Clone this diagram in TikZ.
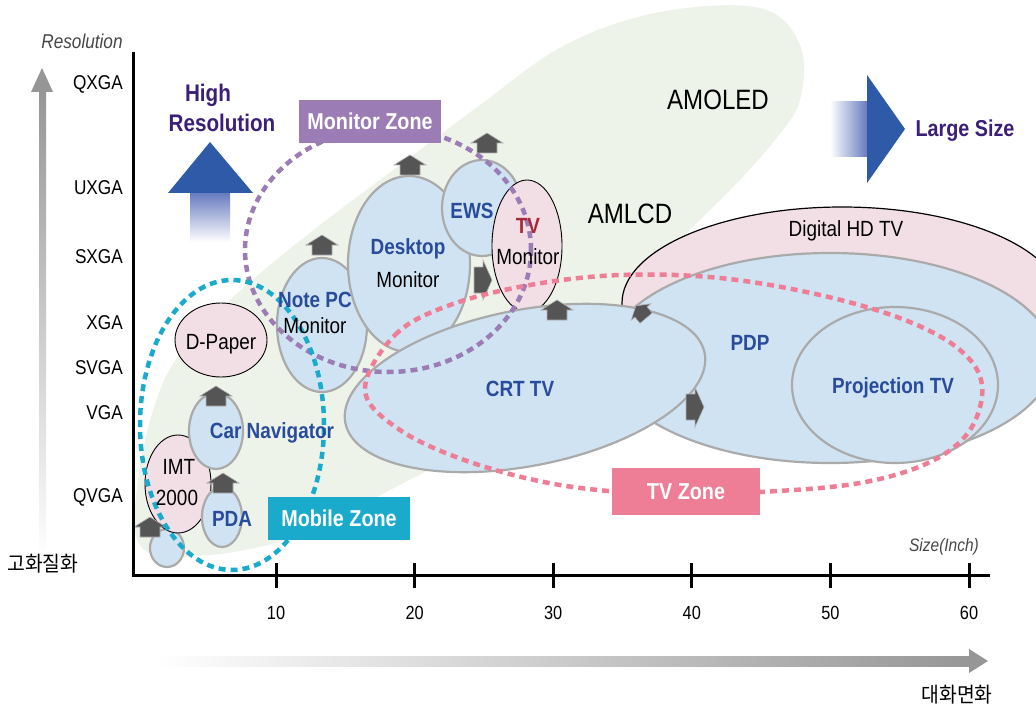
\documentclass[tikz,border=0pt]{standalone}
\usepackage{fontspec}
\setmainfont[FakeStretch=0.86]{Liberation Sans}
\newfontfamily\krfont[FakeStretch=0.92]{Noto Sans CJK KR}
\usetikzlibrary{shapes.geometric}
\definecolor{bggreen}{RGB}{237,243,233}
\definecolor{lblue}{RGB}{208,227,242}
\definecolor{ellgray}{RGB}{170,170,170}
\definecolor{lpink}{RGB}{242,222,229}
\definecolor{tblue}{RGB}{40,76,155}
\definecolor{tpurple}{RGB}{58,30,120}
\definecolor{tred}{RGB}{168,40,58}
\definecolor{purz}{RGB}{155,124,180}
\definecolor{cyanz}{RGB}{26,170,204}
\definecolor{pinkz}{RGB}{238,125,150}
\definecolor{adark}{RGB}{85,85,85}
\definecolor{ablue}{RGB}{46,90,168}
\definecolor{ablue2}{RGB}{100,120,190}
\definecolor{agray}{RGB}{150,150,150}
\definecolor{tgray}{RGB}{70,70,70}
\newcommand\fsz[1]{\fontsize{#1}{#1}\selectfont}
\tikzset{
  ell/.style={ellipse, draw=ellgray, line width=2.2pt, fill=lblue, inner sep=0pt},
  pell/.style={ellipse, draw=black, line width=0.9pt, fill=lpink, inner sep=0pt},
  btxt/.style={font=\fsz{22}\bfseries, text=tblue, inner sep=0pt},
  rtxt/.style={font=\fsz{22}, inner sep=0pt},
  zone/.style={line width=4.5pt, dash pattern=on 7pt off 5pt},
  zbox/.style={text=white, font=\fsz{23}\bfseries, inner sep=0pt},
  ylab/.style={anchor=east, font=\fsz{20}, inner sep=0pt},
  uparr/.pic={\filldraw[fill=adark, draw=gray!60, line width=0.6pt]
     (0,-10) -- (16,0) -- (10,0) -- (10,10) -- (-10,10) -- (-10,0) -- (-16,0) -- cycle;},
  rarr/.pic={\filldraw[fill=adark, draw=gray!60, line width=0.6pt]
     (9,0) -- (0,-20) -- (0,-13) -- (-9,-13) -- (-9,13) -- (0,13) -- (0,20) -- cycle;}
}
\begin{document}
\begin{tikzpicture}[x=1pt,y=-1pt]
\useasboundingbox (0,0) rectangle (1036,714);
% AMOLED background
\fill[bggreen] plot[smooth cycle, tension=0.6] coordinates {
 (142,548) (138,480) (160,390) (195,335) (250,282) (320,225) (400,165) (480,105)
 (565,45) (660,12) (760,8) (800,45) (800,100) (775,140) (735,185) (690,230)
 (640,285) (580,360) (480,440) (390,490) (300,535) (210,555)};
% big ellipses
\node[pell, line width=1.2pt, minimum width=440pt, minimum height=192pt] (dhd) at (842,303) {};
\node[ell, minimum width=446pt, minimum height=210pt] (pdp) at (830,358) {};
\node[ell, minimum width=206pt, minimum height=156pt] (proj) at (895,385) {};
\node[ell, minimum width=90pt, minimum height=134pt] (note) at (322,325) {};
\node[ell, minimum width=122pt, minimum height=176pt] (desk) at (409,264) {};
\node[ell, minimum width=80pt, minimum height=96pt] (ews) at (482,208) {};
\node[pell, minimum width=70pt, minimum height=132pt] (tvm) at (527,246) {};
\node[ell, rotate=11, minimum width=366pt, minimum height=156pt] (crt) at (525,388) {};
\node[ell, minimum width=34pt, minimum height=38pt] (small) at (167,548) {};
\node[pell, minimum width=66pt, minimum height=98pt] (imt) at (178,484) {};
\node[ell, minimum width=40pt, minimum height=60pt] (pda) at (222,517) {};
\node[ell, minimum width=54pt, minimum height=76pt] (car) at (216,431) {};
\node[pell, minimum width=92pt, minimum height=74pt] (dpaper) at (221,340) {};
% small arrows
\pic at (150,527) {uparr};
\pic at (223,483) {uparr};
\pic at (216,396) {uparr};
\pic at (322,245) {uparr};
\pic at (410,165) {uparr};
\pic at (487,143) {uparr};
\pic at (557,310) {uparr};
\pic at (483,280) {rarr};
\pic at (695,407) {rarr};
\pic[rotate=40, scale=0.8] at (641,312) {uparr};
% zones
\node[ellipse, draw=purz, zone, minimum width=286pt, minimum height=244pt, inner sep=0pt] (monz) at (388,250) {};
\node[ellipse, draw=cyanz, zone, minimum width=184pt, minimum height=290pt, inner sep=0pt] (mobz) at (232,425) {};
\draw[pinkz, zone] plot[smooth cycle, tension=0.6] coordinates {
 (365,390) (395,335) (450,305) (530,285) (620,275) (720,278) (820,295) (905,320)
 (960,350) (982,385) (970,430) (930,462) (860,483) (760,492) (660,494) (560,485)
 (470,462) (400,430)};
\node[zbox, fill=purz, minimum width=142pt, minimum height=43pt] (monbox) at (370,121.5) {Monitor Zone};
\node[zbox, fill=cyanz, minimum width=142pt, minimum height=43pt] (mobbox) at (339,518.5) {Mobile Zone};
\node[zbox, fill=pinkz, minimum width=148pt, minimum height=47pt] (tvbox) at (686,491.5) {TV Zone};
% texts in ellipses
\node[btxt] (tnote) at (315,300) {Note PC};
\node[rtxt] (tnote2) at (315,326) {Monitor};
\node[btxt] (tdesk) at (408,249) {Desktop};
\node[rtxt] (tdesk2) at (408,280) {Monitor};
\node[btxt] (tews) at (472,211) {EWS};
\node[btxt, text=tred] (ttv) at (528,226) {TV};
\node[rtxt] (ttv2) at (528,257) {Monitor};
\node[rtxt] (tdp) at (221,344) {D-Paper};
\node[btxt] (tcar) at (272,433) {Car Navigator};
\node[rtxt] (timt) at (179,467) {IMT};
\node[rtxt] (timt2) at (177,498) {2000};
\node[btxt] (tpda) at (232,519) {PDA};
\node[btxt] (tcrt) at (520,389) {CRT TV};
\node[btxt] (tpdp) at (750,343) {PDP};
\node[btxt] (tproj) at (893,388) {Projection TV};
\node[rtxt] (tdhd) at (846,231) {Digital HD TV};
\node[font=\fsz{28}, inner sep=0pt] (tamoled) at (718,100) {AMOLED};
\node[font=\fsz{28}, inner sep=0pt] (tamlcd) at (630,214) {AMLCD};
% High resolution arrow
\shade[top color=ablue2, bottom color=white] (190,192) rectangle (230,242);
\fill[ablue] (168,193) -- (210,142) -- (253,193) -- cycle;
\node[font=\fsz{24}\bfseries, text=tpurple, inner sep=0pt] (thigh) at (208,95) {High};
\node[font=\fsz{24}\bfseries, text=tpurple, inner sep=0pt] (thres) at (222,123) {Resolution};
% Large size arrow
\shade[left color=white, right color=ablue2] (830,102) rectangle (868,157);
\fill[ablue] (867,75) -- (905,129) -- (867,183) -- cycle;
\node[font=\fsz{23}\bfseries, text=tpurple, inner sep=0pt] (tlarge) at (965,131) {Large Size};
% axes
\draw[line width=3pt] (133,52) -- (133,575) -- (990,575);
\foreach \i/\t in {0/10,1/20,2/30,3/40,4/50,5/60}{
  \draw[line width=3pt] (276+138.6*\i,563) -- ++(0,25);
  \node[font=\fsz{19}, inner sep=0pt] (tick\t) at (276+138.6*\i,613) {\t};
}
\node[ylab] (yq) at (123,84) {QXGA};
\node[ylab] (yu) at (123,188) {UXGA};
\node[ylab] (ys) at (123,257) {SXGA};
\node[ylab] (yx) at (123,323) {XGA};
\node[ylab] (ysv) at (123,368) {SVGA};
\node[ylab] (yv) at (123,413) {VGA};
\node[ylab] (yqv) at (123,497) {QVGA};
\node[font=\fsz{20}\itshape, text=tgray, inner sep=0pt] (tres) at (82,41) {Resolution};
\node[font=\fsz{18}\itshape, text=tgray, inner sep=0pt] (tsize) at (944,547) {Size(Inch)};
% gray axis arrows
\shade[top color=agray, bottom color=white] (39,90) rectangle (46,560);
\fill[agray] (31,92) -- (42,68) -- (53,92) -- cycle;
\shade[left color=white, right color=agray] (155,656) rectangle (970,666);
\fill[agray] (969,649) -- (988,661) -- (969,673) -- cycle;
\node[font=\krfont\fsz{21}, inner sep=0pt] (tkr1) at (43,564) {고화질화};
\node[font=\krfont\fsz{21}, inner sep=0pt] (tkr2) at (957,695) {대화면화};
\end{tikzpicture}
\end{document}
